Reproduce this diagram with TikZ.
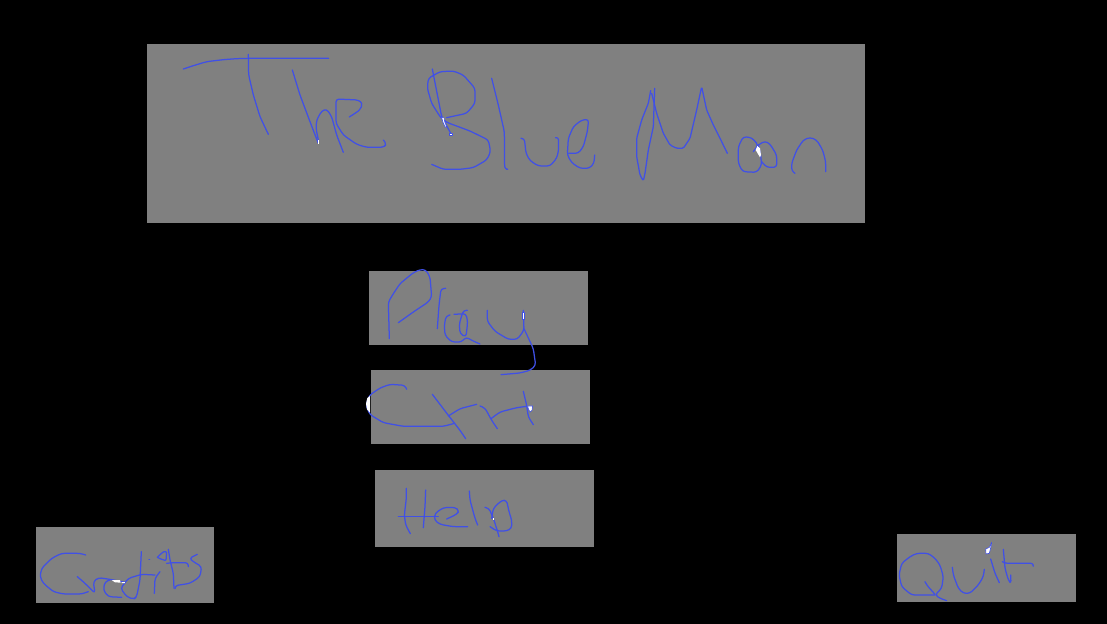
\documentclass[tikz,border=0pt]{standalone}
\definecolor{panel}{RGB}{128,128,128}
\definecolor{ink}{RGB}{64,80,230}
\tikzset{
  panelbox/.style={fill=panel,draw=none},
  inkline/.style={draw=ink,line width=1.25bp,line join=round,line cap=round,rounded corners=3bp},
  hilite/.style={fill=white,draw=ink,line width=.6bp,line join=round},
  zoomed/.style={shift={#1},scale=0.33333}
}
\begin{document}
\begin{tikzpicture}[x=1bp,y=-1bp]
\path[use as bounding box,fill=black] (0,0) rectangle (1107,624);
\path[panelbox] (147,44) rectangle (865,223);
\path[panelbox] (369,271) rectangle (588,345);
\path[panelbox] (371,370) rectangle (590,444);
\path[panelbox] (375,470) rectangle (594,547);
\path[panelbox] (36,527) rectangle (214,603);
\path[panelbox] (897,534) rectangle (1076,602);
% The
\begin{scope}[zoomed={(170,45)}]
\draw[inkline] (40,72)--(70,62)--(110,50)--(160,44)--(200,41)--(235,40)--(476,40);
\draw[inkline] (235,28)--(236,90)--(250,150)--(270,215)--(295,268);
\draw[inkline] (367,75)--(390,150)--(420,230)--(445,295);
\draw[inkline] (445,285)--(438,250)--(440,225)--(455,198)--(470,192)--(485,215)--(500,270)--(520,322);
\draw[inkline] (538,216)--(570,195)--(578,175)--(565,165)--(498,162)--(498,235)--(520,270)--(560,298)--(590,307)--(640,307)--(650,298)--(640,285);
\fill[white] (443,284) rectangle (448,297);
% B
\draw[inkline] (787,72)--(815,215)--(845,270);
\draw[inkline] (830,218)--(890,205)--(915,175)--(915,130)--(880,90)--(850,78)--(810,80)--(775,100)--(772,130)--(785,175)--(812,218)--(830,232)--(900,258)--(955,285)--(962,320)--(950,345)--(910,368)--(870,373)--(820,373)--(785,358);
\draw[inkline] (965,100)--(985,180)--(1003,260)--(1004,373)--(1010,373);
\path[hilite] (815,218)--(822,218)--(824,230)--(830,245)--(826,247)--(819,232)--cycle;
\path[hilite] (839,265) rectangle (848,272);
\end{scope}
% lue Moon
\begin{scope}[zoomed={(500,70)}]
\draw[inkline] (63,205)--(73,205)--(78,250)--(90,272)--(115,288)--(150,288)--(170,265)--(176,240)--(175,200)--(168,203);
\draw[inkline] (207,250)--(235,250)--(250,230)--(262,185)--(266,148)--(245,150)--(220,170)--(205,205)--(202,255)--(215,278)--(240,295)--(268,295)--(282,280)--(284,255);
\draw[inkline,rounded corners=1.5bp] (452,62)--(445,100)--(425,150)--(410,205)--(410,260)--(420,315)--(430,333)--(435,310)--(445,240)--(460,170)--(464,55);
\draw[inkline,rounded corners=1.5bp] (455,70)--(470,130)--(490,190)--(510,225)--(530,235)--(550,235)--(570,205)--(590,120)--(605,50)--(620,120)--(640,165)--(665,215)--(682,250);
\draw[inkline] (760,245)--(775,225)--(755,203)--(730,200)--(715,230)--(715,280)--(728,305)--(770,307)--(785,285)--(782,255)--(775,225);
\draw[inkline] (775,225)--(795,213)--(810,222)--(830,255)--(830,292)--(800,292)--(785,275);
\fill[white] (772,228)--(767,240)--(780,262)--(783,255)--(780,235)--cycle;
\draw[inkline] (885,310)--(875,303)--(875,280)--(890,240)--(910,210)--(930,202)--(950,210)--(968,240)--(977,275)--(977,305);
\end{scope}
% Play / Crt
\begin{scope}[zoomed={(360,262)}]
\draw[inkline] (88,230)--(85,120)--(100,95)--(120,65)--(160,32)--(180,23)--(197,23)--(210,45)--(215,105)--(205,120)--(160,150)--(115,182);
\draw[inkline] (257,79)--(243,80)--(237,130)--(232,200);
\draw[inkline] (322,145)--(310,145)--(298,185)--(300,215)--(318,225)--(323,180)--(318,155)--(282,157);
\draw[inkline] (270,159)--(258,162)--(253,190)--(255,220)--(275,240)--(305,240)--(318,225)--(335,235)--(360,246);
\draw[inkline] (382,145)--(382,178)--(405,208)--(445,232)--(472,232)--(492,205)--(490,145);
\draw[inkline] (492,200)--(520,260)--(527,310)--(510,325)--(480,333)--(423,338);
\path[hilite] (487,150) rectangle (494,172);
\draw[inkline] (140,382)--(135,370)--(90,367)--(60,378)--(28,400)--(18,430)--(30,458)--(70,482)--(130,493)--(250,493)--(280,485);
\fill[white] (30,402)--(22,408)--(18,425)--(21,442)--(30,452)--cycle;
\draw[inkline] (217,397)--(265,460)--(300,505)--(317,530);
\draw[inkline] (265,462)--(300,440)--(350,427);
\draw[inkline] (360,432)--(375,438)--(395,475)--(412,500);
\draw[inkline] (393,470)--(420,450)--(470,437)--(500,433);
\draw[inkline] (490,388)--(500,430)--(505,465)--(520,488);
\path[hilite] (503,432)--(518,432)--(516,445)--(510,450)--(505,440)--cycle;
\end{scope}
% Help
\begin{scope}[zoomed={(385,475)}]
\draw[inkline] (64,40)--(64,70)--(58,120)--(62,150)--(76,176);
\draw[inkline] (122,45)--(120,95)--(115,158);
\draw[inkline] (40,124)--(160,124);
\draw[inkline] (185,132)--(215,118)--(223,107)--(210,97)--(175,98)--(150,115)--(148,135)--(165,148)--(205,155)--(248,155);
\draw[inkline] (253,48)--(255,75)--(270,130)--(278,150);
\draw[inkline] (300,97)--(312,100)--(325,130)--(338,170)--(342,185);
\draw[inkline] (320,130)--(325,100)--(350,76)--(365,76)--(372,110)--(380,135)--(380,160)--(365,168)--(335,168)--(315,155);
\fill[white] (323,130) rectangle (327,136);
\end{scope}
% Credits
\begin{scope}[zoomed={(30,540)}]
\draw[inkline] (167,45)--(150,40)--(95,40)--(65,55)--(35,85)--(30,110)--(40,130)--(70,155)--(100,162)--(155,162)--(175,155);
\draw[inkline] (142,110)--(165,130)--(195,160)--(190,125)--(205,113)--(240,118)--(285,127);
\draw[inkline] (240,120)--(225,125)--(220,150)--(235,170)--(275,172);
\draw[inkline] (375,105)--(335,103)--(295,115)--(272,145)--(290,170)--(312,178)--(320,170)--(330,120)--(334,35);
\draw[inkline] (373,160)--(375,115)--(390,95);
\draw[inkline] (357,58)--(359,58);
\draw[inkline,rounded corners=1bp] (382,52)--(400,35)--(410,35)--(408,62)--(395,58)--(382,52);
\draw[inkline] (415,28)--(420,60)--(430,100)--(432,145);
\draw[inkline] (410,70)--(428,68)--(475,68)--(475,80);
\draw[inkline] (502,43)--(478,55)--(490,65)--(515,80)--(510,110)--(480,130)--(435,137)--(435,145);
\fill[white] (245,120)--(270,120)--(272,128)--(255,127)--cycle (275,126) rectangle (285,129);
\end{scope}
% Quit
\begin{scope}[zoomed={(890,535)}]
\draw[inkline] (135,180)--(65,180)--(35,155)--(27,120)--(35,85)--(60,65)--(80,55)--(115,55)--(135,70)--(150,90)--(160,125)--(155,160)--(135,180)--(150,190)--(170,197);
\draw[inkline] (105,140)--(110,150)--(135,178);
\draw[inkline] (187,97)--(190,120)--(205,160)--(220,175)--(240,175)--(265,150)--(280,125)--(283,103);
\draw[inkline] (302,72)--(315,115)--(328,143);
\draw[inkline] (340,43)--(345,100)--(355,135)--(363,146)--(362,120);
\draw[inkline] (337,80)--(345,85)--(432,85)--(430,92);
\path[hilite] (298,37)--(305,22)--(303,35)--(298,55)--(288,57)--(287,42)--cycle;
\end{scope}
\end{tikzpicture}
\end{document}
